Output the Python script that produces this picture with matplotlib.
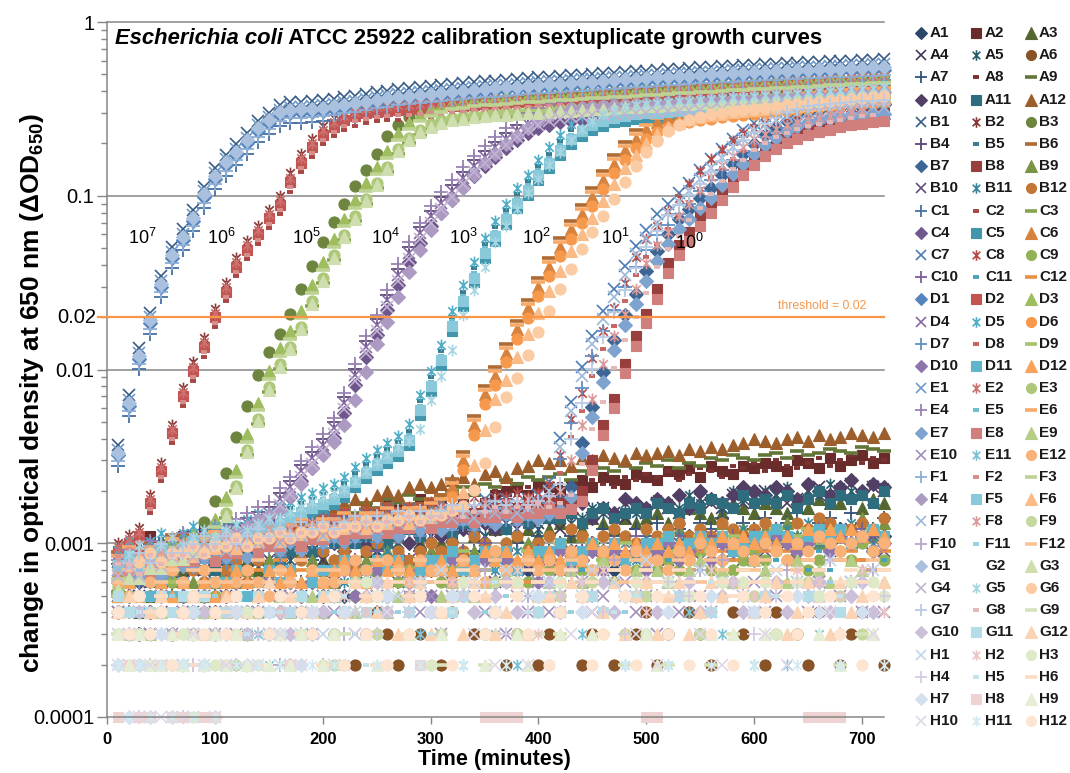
import numpy as np
import matplotlib
matplotlib.use("Agg")
import matplotlib.pyplot as plt
from matplotlib.path import Path
from matplotlib.lines import Line2D

plt.rcParams['font.family'] = ['Liberation Sans', 'DejaVu Sans']
plt.rcParams['mathtext.fontset'] = 'custom'
plt.rcParams['mathtext.rm'] = 'Liberation Sans'
plt.rcParams['mathtext.it'] = 'Liberation Sans:italic'
plt.rcParams['mathtext.bf'] = 'Liberation Sans:bold'

# ---------------------------------------------------------------- plate layout
plate_rows = list("ABCDEFGH")
plate_cols = list(range(1, 13))
sample_minutes = np.arange(10, 721, 10)          # plate reader read times

# ---------------------------------------------------------------- growth wells
# rows B-G, columns 1-8: ten-fold dilution series, 10^7 (col 1) ... 10^0 (col 8)
dilution_labels = ["$\\mathregular{10^7}$", "$\\mathregular{10^6}$", "$\\mathregular{10^5}$",
                   "$\\mathregular{10^4}$", "$\\mathregular{10^3}$", "$\\mathregular{10^2}$",
                   "$\\mathregular{10^1}$", "$\\mathregular{10^0}$"]

# typical delta-OD650 per dilution, one value per read (10 ... 720 min)
od_1e7 = [0.0032, 0.0062, 0.0115, 0.0185, 0.030, 0.044, 0.056, 0.072, 0.098, 0.125,
          0.150, 0.172, 0.200, 0.235, 0.262, 0.290, 0.300, 0.302, 0.305, 0.309,
          0.314, 0.320, 0.327, 0.335, 0.343, 0.350, 0.356, 0.361, 0.366, 0.371,
          0.376, 0.381, 0.386, 0.391, 0.396, 0.400, 0.404, 0.409, 0.413, 0.417,
          0.421, 0.425, 0.429, 0.433, 0.437, 0.441, 0.445, 0.449, 0.453, 0.457,
          0.461, 0.465, 0.469, 0.472, 0.476, 0.480, 0.484, 0.487, 0.491, 0.494,
          0.498, 0.501, 0.504, 0.507, 0.510, 0.513, 0.516, 0.519, 0.522, 0.525, 0.528, 0.530]
od_1e6 = [0.0009, 0.0010, 0.0011, 0.0017, 0.0026, 0.0043, 0.0070, 0.0098, 0.0135, 0.0200,
          0.0280, 0.0390, 0.0490, 0.0600, 0.0740, 0.0890, 0.120, 0.155, 0.190, 0.225,
          0.250, 0.272, 0.288, 0.298, 0.305, 0.309, 0.312, 0.315, 0.318, 0.321,
          0.324, 0.327, 0.330, 0.333, 0.336, 0.339, 0.342, 0.345, 0.348, 0.351,
          0.354, 0.357, 0.360, 0.363, 0.366, 0.370, 0.373, 0.376, 0.380, 0.383,
          0.387, 0.390, 0.394, 0.397, 0.401, 0.404, 0.408, 0.411, 0.415, 0.418,
          0.422, 0.425, 0.429, 0.432, 0.436, 0.439, 0.443, 0.446, 0.450, 0.453, 0.456, 0.459]
od_1e5 = [0.0006, 0.0007, 0.0007, 0.0008, 0.0008, 0.0009, 0.0009, 0.0010, 0.0010, 0.0012,
          0.0016, 0.0023, 0.0037, 0.0056, 0.0085, 0.0115, 0.0145, 0.0190, 0.0265, 0.0360,
          0.0490, 0.0640, 0.0820, 0.103, 0.128, 0.158, 0.200, 0.232, 0.258, 0.278,
          0.292, 0.302, 0.309, 0.315, 0.319, 0.322, 0.325, 0.328, 0.331, 0.334,
          0.337, 0.340, 0.343, 0.346, 0.349, 0.352, 0.355, 0.358, 0.361, 0.364,
          0.367, 0.370, 0.373, 0.376, 0.379, 0.382, 0.385, 0.388, 0.391, 0.394,
          0.397, 0.400, 0.403, 0.406, 0.409, 0.412, 0.415, 0.418, 0.421, 0.424, 0.427, 0.430]
od_1e4 = [0.0007, 0.0008, 0.0007, 0.0009, 0.0008, 0.0009, 0.0010, 0.0009, 0.0010, 0.0011,
          0.0011, 0.0012, 0.0013, 0.0014, 0.0015, 0.0018, 0.0021, 0.0026, 0.0031, 0.0037,
          0.0046, 0.0064, 0.0093, 0.0135, 0.0180, 0.0250, 0.0350, 0.0470, 0.0610, 0.0760,
          0.0910, 0.107, 0.127, 0.148, 0.168, 0.190, 0.213, 0.237, 0.260, 0.278,
          0.292, 0.302, 0.308, 0.312, 0.315, 0.318, 0.320, 0.322, 0.325, 0.327,
          0.330, 0.332, 0.335, 0.337, 0.340, 0.342, 0.345, 0.347, 0.350, 0.352,
          0.355, 0.357, 0.360, 0.362, 0.365, 0.367, 0.370, 0.372, 0.375, 0.377, 0.380, 0.382]
od_1e3 = [0.0008, 0.0009, 0.0008, 0.0009, 0.0010, 0.0009, 0.0010, 0.0011, 0.0010, 0.0011,
          0.0012, 0.0011, 0.0012, 0.0013, 0.0013, 0.0014, 0.0015, 0.0016, 0.0017, 0.0018,
          0.0019, 0.0021, 0.0024, 0.0027, 0.0030, 0.0033, 0.0036, 0.0042, 0.0062, 0.0085,
          0.0120, 0.0190, 0.0265, 0.0360, 0.0500, 0.0620, 0.0780, 0.0960, 0.115, 0.140,
          0.165, 0.195, 0.225, 0.250, 0.272, 0.288, 0.300, 0.308, 0.313, 0.317,
          0.320, 0.323, 0.327, 0.330, 0.334, 0.337, 0.341, 0.344, 0.348, 0.351,
          0.355, 0.358, 0.362, 0.365, 0.369, 0.372, 0.376, 0.379, 0.383, 0.386, 0.390, 0.393]
od_1e2 = [0.0008, 0.0009, 0.0008, 0.0009, 0.0009, 0.0010, 0.0009, 0.0010, 0.0010, 0.0011,
          0.0010, 0.0011, 0.0011, 0.0012, 0.0011, 0.0012, 0.0012, 0.0013, 0.0012, 0.0013,
          0.0013, 0.0014, 0.0013, 0.0014, 0.0014, 0.0015, 0.0014, 0.0015, 0.0015, 0.0016,
          0.0017, 0.0021, 0.0030, 0.0048, 0.0072, 0.0092, 0.0125, 0.0170, 0.0225, 0.0300,
          0.0390, 0.0510, 0.0640, 0.0790, 0.0990, 0.124, 0.153, 0.183, 0.213, 0.242,
          0.264, 0.280, 0.293, 0.303, 0.310, 0.316, 0.321, 0.326, 0.331, 0.336,
          0.341, 0.346, 0.351, 0.356, 0.361, 0.366, 0.371, 0.376, 0.381, 0.386, 0.390, 0.394]
od_1e1 = [0.0007, 0.0008, 0.0007, 0.0009, 0.0008, 0.0008, 0.0009, 0.0010, 0.0009, 0.0010,
          0.0009, 0.0010, 0.0011, 0.0010, 0.0011, 0.0010, 0.0012, 0.0011, 0.0012, 0.0011,
          0.0012, 0.0013, 0.0012, 0.0013, 0.0012, 0.0014, 0.0013, 0.0014, 0.0013, 0.0014,
          0.0015, 0.0014, 0.0015, 0.0014, 0.0016, 0.0015, 0.0016, 0.0015, 0.0016, 0.0017,
          0.0020, 0.0036, 0.0058, 0.0092, 0.0140, 0.0195, 0.0260, 0.0350, 0.0460, 0.0570,
          0.0700, 0.0800, 0.0920, 0.106, 0.125, 0.145, 0.166, 0.190, 0.212, 0.235,
          0.256, 0.274, 0.288, 0.298, 0.304, 0.308, 0.311, 0.314, 0.317, 0.320, 0.323, 0.326]
od_1e0 = [0.0007, 0.0008, 0.0008, 0.0007, 0.0009, 0.0008, 0.0009, 0.0009, 0.0010, 0.0009,
          0.0010, 0.0010, 0.0011, 0.0010, 0.0011, 0.0011, 0.0012, 0.0011, 0.0012, 0.0012,
          0.0013, 0.0012, 0.0013, 0.0013, 0.0014, 0.0013, 0.0014, 0.0014, 0.0015, 0.0014,
          0.0015, 0.0015, 0.0016, 0.0015, 0.0016, 0.0016, 0.0017, 0.0016, 0.0017, 0.0017,
          0.0018, 0.0017, 0.0018, 0.0020, 0.0030, 0.0048, 0.0068, 0.0108, 0.0155, 0.0210,
          0.0290, 0.0410, 0.0520, 0.0620, 0.0760, 0.0900, 0.108, 0.128, 0.150, 0.170,
          0.192, 0.212, 0.228, 0.242, 0.254, 0.264, 0.273, 0.281, 0.289, 0.296, 0.302, 0.308]

# replicate wells (rows B..G): lag in reads relative to the column curve, and relative level
replicate_lag_reads = [[0, 0, 0, 0, 0, 0],
                       [0, 0, 0, 0, 0, 0],
                       [-1, 0, 0, 0, 0, 0],
                       [0, 0, 0, 0, 1, 0],
                       [0, 0, 0, 0, 0, 1],
                       [0, 0, 0, 0, 1, 2],
                       [2, 0, 0, 2, 0, 1],
                       [0, -3, -3, 0, -2, -1]]
replicate_level = [[1.15, 0.87, 1.00, 1.08, 0.93, 1.04],
                   [1.12, 0.88, 1.00, 1.06, 0.93, 1.00],
                   [1.10, 0.87, 1.15, 0.93, 1.04, 0.90],
                   [1.08, 0.88, 1.00, 1.15, 1.04, 0.92],
                   [1.06, 0.88, 1.15, 1.00, 0.94, 1.08],
                   [1.12, 1.00, 0.88, 1.06, 0.94, 0.97],
                   [1.05, 1.12, 0.85, 0.92, 1.00, 1.10],
                   [1.00, 1.08, 0.85, 0.88, 1.00, 0.95]]

# ---------------------------------------------------------------- blank wells
# one character per read, value in units of 0.0001 OD;
# '0' means zero / negative change (not shown on the log axis)
OD_CODE = "0123456789abcdefghijklmnopqrstuvwxyzABCDEFGHIJKLMNOPQRSTUVWXYZ"

blank_row_A = [
    "4534635454" "5465746565" "6576857667" "7687968778" "8798a97898" "9a8b9a8ab9" "aba9cbacab9b",
    "9a8b9ab9cb" "acbdbcedfe" "dfegfhgfih" "hjikhjkljm" "lkmnlonmpo" "nqprosqpsr" "tsqutrvsuwtv",
    "5645657566" "7687867978" "8979a898a9" "ab9bacabcb" "cdbcedcede" "fdegfefhgf" "hgfigihhjgih",
    "5756868776" "8798897a98" "a9ba9bacab" "cbcdbcdced" "ecfdegfegf" "hgfhihgjhi" "kjhikljkmjlk",
    "6576576867" "6878798a89" "a9ab9bacba" "cbdcbdcedc" "efdegfehfg" "ihgjhigkij" "kjlikjmlkjml",
    "5645465354" "4534352435" "3423432534" "2403342302" "3402342034" "2304320430" "240324023402",
    "4536455465" "5674657687" "6787986898" "7989a89a8b" "9ab9acbacb" "dbcadcebdc" "ecdfbdecfdce",
    "8979a89ba9" "bacbcdbedc" "efdgefhgfh" "ighjikhjlk" "jmlknmlonp" "oqnprqosrt" "qusrtvsuwtvu",
    "6778788989" "abacbdcede" "fgfhgihjik" "jkljmlnmon" "opnqprqsrt" "surtsvuwvu" "wxvywxzyxAzy",
    "6867786978" "8798a89a9b" "a9bacbcadc" "bdcedcfedf" "egfhegfihg" "ihjgkihjlk" "jlkimkjlnkml",
    "5676576877" "8798a89a9b" "a9abcabcbd" "cbdcedcedf" "eefdfgefgf" "hgfhgihgjh" "ihjgikhjijhk",
    "7879889a9a" "bacbdcedfg" "ghihjkjlml" "mnompqorsu" "tusvuwvuxw" "xywzyAzBCE" "DCEFDGEFHGFH",
]
blank_row_H = [
    "3241312130" "2430324303" "0540605460" "7056047050" "6405706508" "0650706054" "070605806070",
    "2132421302" "3420340240" "0504050602" "0605040703" "0506070504" "0605070605" "030706050704",
    "3232423132" "2342032342" "3206050302" "0560340605" "0605030063" "0605006060" "630605006065",
    "2312431203" "4203402030" "5040300450" "3050603040" "0506040300" "0605040603" "050604030605",
    "3242312403" "2430240342" "0502400503" "0405060040" "5000604050" "0500060004" "050600050600",
    "4354534253" "4302435342" "5465206564" "6576506576" "5675607567" "6576506576" "675607567657",
    "2121312421" "3420430240" "0400050004" "0500040005" "0004000500" "0400050004" "000504000400",
    "1211211011" "2000002000" "0200000020" "0000111100" "0000000001" "1000000000" "000011110000",
    "3232232323" "2320232302" "3003200300" "3000200320" "0300300003" "2000030300" "300003020030",
    "2312121321" "2402030240" "2030040004" "0003020020" "0030400030" "2000302000" "302000400030",
    "2121212121" "0202020020" "2000200020" "0020002000" "2000200200" "0200020002" "000200020002",
    "4353424534" "3504350430" "5203520350" "4205340530" "2405230520" "5302530250" "405340530250",
]
# rows B..G, columns 9-12
blank_cols_9_12 = [
    ["5654675656" "7675867687" "6878798879" "8979a898a9" "9a8ba9ab9a" "bacbabdbca" "cbdbcadbcebd",
     "4543546454" "5645657565" "6576576867" "7687968778" "8798978898" "98a98ba98a" "9ba8ab9bcab9",
     "5464575465" "6575686576" "7687697687" "8798a78988" "9a89ab9a8b" "a9bacab9ca" "bacbdacbdcab",
     "6757686768" "7868797879" "8979a8989a" "9a9ba9ab9a" "bacbabcbac" "bcdbcbdcbc" "dcbdcedbcdce"],
    ["4535464545" "5645657565" "5756576757" "6757686767" "7687786878" "7878978789" "898978a98a98",
     "5464575465" "6575686576" "6786978678" "7897a89789" "8989a8a9ba" "9ab9ab9bab" "aba9bcabacba",
     "4543546454" "5645657564" "5756576756" "6756576767" "6767686767" "7868787868" "786879786878",
     "5665766576" "6767686767" "7687686787" "6878787868" "7878978787" "8787989878" "979887989879"],
    ["5464565465" "6576576576" "7687687687" "8798798798" "9a89a89a89" "ab9ab9ab9a" "bcabcabcabca",
     "4534535453" "5645646564" "6756757675" "7867868786" "8978979897" "9a89a8a9a8" "aba9ab9bab9a",
     "5645656456" "6756767567" "7867878678" "8978989789" "9a89a9a89a" "ab9abab9ab" "bcbabcbcabcb",
     "5654656565" "6765767676" "7876878787" "8787989898" "9898a9a9a9" "a9a9bababa" "babacbcbcbcb"],
    ["4303430343" "4034054054" "5045045060" "5605607605" "6076086076" "7607807608" "706807608706",
     "4343534353" "4304305435" "4530540545" "3505403546" "4506450645" "3640546056" "450646056404",
     "3423402434" "2043203204" "3200420030" "4020030204" "2003040203" "0204003002" "402003020040",
     "6576576576" "5676576576" "6787687687" "7687697687" "8798798798" "8798a98a98" "a98a9ba9ab9a"],
    ["3420423053" "4200340500" "2060340050" "3050060304" "0500600305" "0600306005" "030060050300",
     "4342434243" "4243424342" "5306450560" "0650706050" "6070508060" "5060708050" "607050806070",
     "3534353435" "3435343534" "4535064506" "4506405604" "0640560406" "4056040650" "406504605406",
     "6767676767" "6068676807" "7606867086" "7080687686" "7086707687" "6080687067" "806786080687"],
    ["3232323232" "3232303230" "2300200300" "2000230003" "0300030200" "0200020300" "030000020300",
     "4343434343" "3434343434" "5405640564" "0564056405" "6405064056" "4056405640" "564056405640",
     "5454545454" "4545404545" "5404500404" "0450040004" "5000540050" "0050040004" "500050040000",
     "4534534534" "5345635345" "3465463563" "4536534635" "5365346356" "3563465364" "563465364536"],
]

threshold_od = 0.02

# ---------------------------------------------------------------- styling
accent = ["#4F81BD", "#C0504D", "#9BBB59", "#8064A2", "#4BACC6", "#F79646"]


def tone(hex_color, f):
    rgb = np.array([int(hex_color[i:i + 2], 16) for i in (1, 3, 5)]) / 255.0
    rgb = rgb * (1 + f) if f < 0 else rgb + (1 - rgb) * f
    return tuple(np.clip(rgb, 0, 1))


star_path = Path([(0, -1), (0, 1), (-0.72, -0.72), (0.72, 0.72), (-0.72, 0.72), (0.72, -0.72)],
                 [Path.MOVETO, Path.LINETO] * 3)
marker_styles = [
    dict(marker="D", ms=6.8, mew=0.8),
    dict(marker="s", ms=7.4, mew=0.8),
    dict(marker="^", ms=8.8, mew=0.8),
    dict(marker="x", ms=8.0, mew=1.2),
    dict(marker=star_path, ms=8.5, mew=1.2),
    dict(marker="o", ms=8.0, mew=0.8),
    dict(marker="+", ms=9.5, mew=1.3),
    dict(marker="_", ms=5.0, mew=2.8),
    dict(marker="_", ms=10.0, mew=2.6),
]


def decode(code):
    v = np.array([OD_CODE.index(ch) for ch in code], dtype=float) * 1e-4
    v[v <= 0] = np.nan
    return v


def lagged(curve, k):
    """Replicate reads: the column curve moved by k whole reads."""
    v = np.asarray(curve, dtype=float)
    if k > 0:
        return sample_minutes[k:], v[:-k]
    if k < 0:
        return sample_minutes[:k], v[-k:]
    return sample_minutes, v


growth_curves = [od_1e7, od_1e6, od_1e5, od_1e4, od_1e3, od_1e2, od_1e1, od_1e0]

W, H = 1070, 773
fig = plt.figure(figsize=(W / 100, H / 100), dpi=100)
ax = fig.add_axes([107 / W, 1 - 717 / H, 776.6 / W, 695 / H])
ax.set_yscale("log")
ax.set_xlim(0, 720)
ax.set_ylim(1e-4, 1)

grid_c = "#868686"
for g in (1e-3, 1e-2, 1e-1, 1):
    ax.axhline(g, color=grid_c, lw=1.1, zorder=0.5, clip_on=False)

legend_entries = []
for ri, r in enumerate(plate_rows):
    for c in plate_cols:
        idx = ri * 12 + (c - 1)
        level = idx // 6
        color = tone(accent[(c - 1) % 6], -0.45 + 0.08 * level)
        style = dict(marker_styles[idx % 9])
        name = f"{r}{c}"
        hidden = name == "G2"
        if 1 <= ri <= 6 and c <= 8:
            rep = ri - 1
            t, v = lagged(growth_curves[c - 1], replicate_lag_reads[c - 1][rep])
            v = v * replicate_level[c - 1][rep]
        else:
            if ri == 0:
                code = blank_row_A[c - 1]
            elif ri == 7:
                code = blank_row_H[c - 1]
            else:
                code = blank_cols_9_12[ri - 1][c - 9]
            v = decode(code)
            t = sample_minutes[:len(v)]
        if not hidden:
            ax.plot(t, v, ls="none", color=color, mfc=color, mec=color,
                    zorder=2, clip_on=False, **style)
        legend_entries.append((name, color, style, hidden))

# threshold
ax.axhline(threshold_od, color="#F79646", lw=1.6, xmin=-0.012, clip_on=False, zorder=5)
ax.text(622, 0.0215, "threshold = 0.02", color="#F79646", fontsize=8.8, ha="left", va="bottom")

# dilution labels
label_minutes = [32.5, 106, 185, 258, 330, 398, 471, 540]
label_od = [0.0571, 0.0571, 0.0571, 0.0571, 0.0571, 0.0571, 0.0571, 0.0534]
for lab, xm, yo in zip(dilution_labels, label_minutes, label_od):
    ax.text(xm, yo, lab, fontsize=13, ha="center", va="center", zorder=6)

# title inside the plot area
t1 = ax.text(0.0105, 0.992, "Escherichia coli", transform=ax.transAxes, fontsize=15.8,
             fontweight="bold", style="italic", ha="left", va="top", zorder=6)
ax.annotate(" ATCC 25922 calibration sextuplicate growth curves", xy=(1, 0), xycoords=t1,
            fontsize=15.8, fontweight="bold", ha="left", va="bottom", zorder=6)

# axes
for s in ("top", "right"):
    ax.spines[s].set_visible(False)
for s in ("left", "bottom"):
    ax.spines[s].set_color(grid_c)
    ax.spines[s].set_linewidth(1.1)
ax.set_yticks([1e-4, 1e-3, 1e-2, 1e-1, 1])
ax.set_yticklabels(["0.0001", "0.001", "0.01", "0.1", "1"])
ax.tick_params(axis="y", which="major", length=7, width=1, color=grid_c, labelsize=14.5, pad=2)
ax.tick_params(axis="y", which="minor", length=4, width=1, color=grid_c)
ax.set_xticks(range(0, 701, 100))
ax.tick_params(axis="x", which="major", length=5, width=1, color=grid_c, labelsize=12, pad=6)
for lab in ax.get_xticklabels():
    lab.set_fontweight("bold")
ax.text(-0.0135, threshold_od, "0.02", transform=ax.get_yaxis_transform(), fontsize=14.5,
        ha="right", va="center")

fig.text(32 / W, 1 - 393 / H, "change in optical density at 650 nm (ΔOD$_{\\mathbf{650}}$)",
         rotation=90, fontsize=19, fontweight="bold", ha="center", va="center")
fig.text(494 / W, 1 - 760 / H, "Time (minutes)", fontsize=15.5, fontweight="bold",
         ha="center", va="center")

# legend: three columns, plate order row by row
col_marker_x = [921, 976, 1031]
col_text_x = [930, 985, 1039]
for i, (name, color, style, hidden) in enumerate(legend_entries):
    row, col = divmod(i, 3)
    y = 1 - (33 + row * 22.2) / H
    if not hidden:
        lstyle = dict(style)
        lstyle["ms"] = style["ms"] * 0.9
        fig.add_artist(Line2D([col_marker_x[col] / W], [y], transform=fig.transFigure, ls="none",
                              color=color, mfc=color, mec=color, **lstyle))
    fig.text(col_text_x[col] / W, y, name, fontsize=11, fontweight="bold", ha="left",
             va="center", color="#1a1a1a")

fig.savefig("out.png", dpi=100)
